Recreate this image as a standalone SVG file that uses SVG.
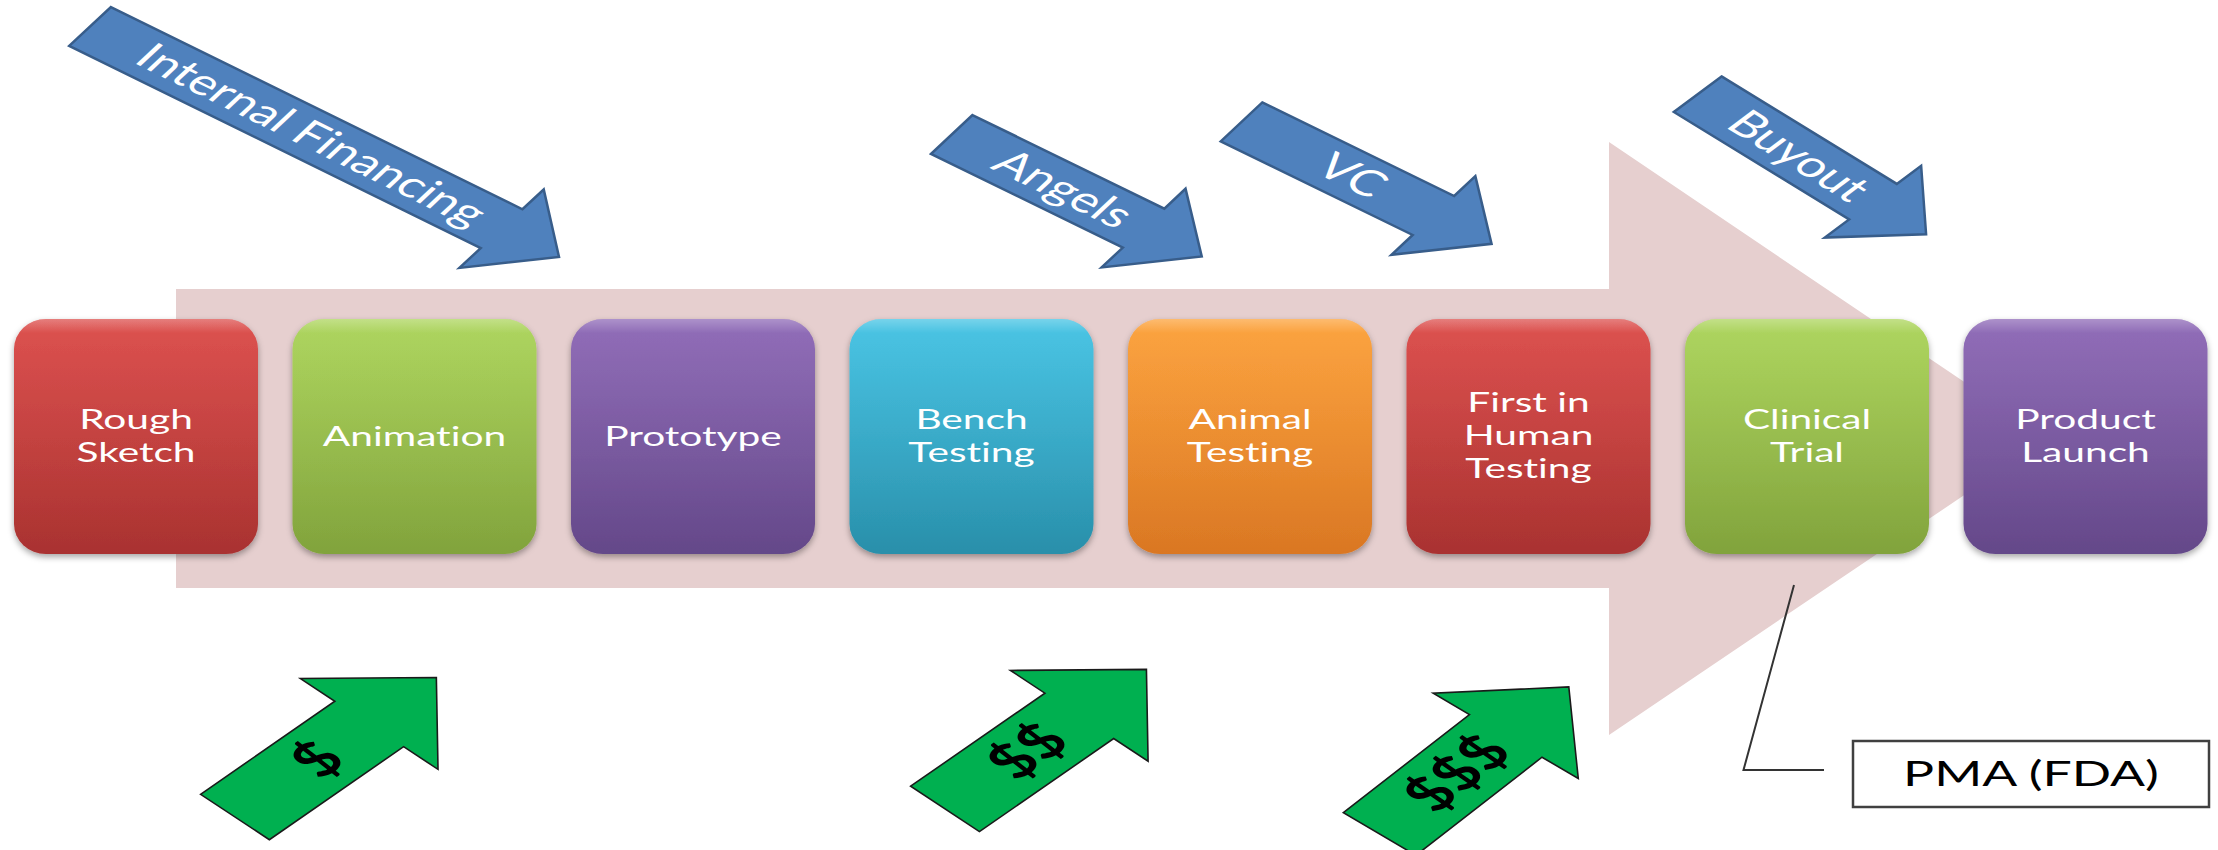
<svg xmlns="http://www.w3.org/2000/svg" width="2218" height="850" viewBox="0 0 2218 850">
<style>
text{font-variant-ligatures:none}
.lbl{font-family:Lato,"Liberation Sans",sans-serif;font-size:27.5px;fill:#ffffff;text-anchor:middle}
.fin{fill:#4F81BD;stroke:#385D8A;stroke-width:2.5}
.fin-text{font-family:Lato,"Liberation Sans",sans-serif;font-size:36px;fill:#ffffff;text-anchor:middle}
.cash{fill:#00B050;stroke:#1a1a1a;stroke-width:1.6}
.dollar{font-family:Lato,"Liberation Sans",sans-serif;font-weight:700;font-size:47px;fill:#000000;text-anchor:middle}
.stage{stroke:none}
.gloss{fill:url(#gloss)}
</style>
<defs>
<linearGradient id="gRed" x1="0" y1="0" x2="0" y2="1"><stop offset="0" stop-color="#DB4644"/><stop offset="1" stop-color="#A93230"/></linearGradient>
<linearGradient id="gGreen" x1="0" y1="0" x2="0" y2="1"><stop offset="0" stop-color="#A9D355"/><stop offset="1" stop-color="#81A33C"/></linearGradient>
<linearGradient id="gPurple" x1="0" y1="0" x2="0" y2="1"><stop offset="0" stop-color="#8A64B4"/><stop offset="1" stop-color="#644889"/></linearGradient>
<linearGradient id="gCyan" x1="0" y1="0" x2="0" y2="1"><stop offset="0" stop-color="#3EC1E3"/><stop offset="1" stop-color="#298FAA"/></linearGradient>
<linearGradient id="gOrange" x1="0" y1="0" x2="0" y2="1"><stop offset="0" stop-color="#FC9E33"/><stop offset="1" stop-color="#DA7723"/></linearGradient>
<linearGradient id="gloss" x1="0" y1="0" x2="0" y2="1"><stop offset="0" stop-color="#ffffff" stop-opacity="0.3"/><stop offset="0.06" stop-color="#ffffff" stop-opacity="0.06"/><stop offset="1" stop-color="#ffffff" stop-opacity="0"/></linearGradient>
<filter id="shadow" x="-10%" y="-10%" width="120%" height="125%"><feDropShadow dx="0" dy="3" stdDeviation="3" flood-color="#000" flood-opacity="0.35"/></filter>
</defs>

<rect width="2218" height="850" fill="#ffffff"/>

<g id="pipeline-arrow">
<polygon points="176,289 1609,289 1609,142 2048,438.5 1609,735 1609,588 176,588" fill="#E6CFCF"/>
</g>

<g id="rough-sketch"><rect class="stage" x="14" y="319" width="244" height="235" rx="32" ry="30" fill="url(#gRed)" filter="url(#shadow)"/><rect class="gloss" x="14" y="319" width="244" height="235" rx="32" ry="30"/>
<text class="lbl" transform="translate(136 0) scale(1.4787 1)"><tspan x="0" y="429">Rough</tspan><tspan x="0" y="462">Sketch</tspan></text></g>

<g id="animation"><rect class="stage" x="292.5" y="319" width="244" height="235" rx="32" ry="30" fill="url(#gGreen)" filter="url(#shadow)"/><rect class="gloss" x="292.5" y="319" width="244" height="235" rx="32" ry="30"/>
<text class="lbl" transform="translate(414.5 0) scale(1.4787 1)"><tspan x="0" y="446">Animation</tspan></text></g>

<g id="prototype"><rect class="stage" x="571" y="319" width="244" height="235" rx="32" ry="30" fill="url(#gPurple)" filter="url(#shadow)"/><rect class="gloss" x="571" y="319" width="244" height="235" rx="32" ry="30"/>
<text class="lbl" transform="translate(693 0) scale(1.4787 1)"><tspan x="0" y="446">Prototype</tspan></text></g>

<g id="bench-testing"><rect class="stage" x="849.5" y="319" width="244" height="235" rx="32" ry="30" fill="url(#gCyan)" filter="url(#shadow)"/><rect class="gloss" x="849.5" y="319" width="244" height="235" rx="32" ry="30"/>
<text class="lbl" transform="translate(971.5 0) scale(1.4787 1)"><tspan x="0" y="429">Bench</tspan><tspan x="0" y="462">Testing</tspan></text></g>

<g id="animal-testing"><rect class="stage" x="1128" y="319" width="244" height="235" rx="32" ry="30" fill="url(#gOrange)" filter="url(#shadow)"/><rect class="gloss" x="1128" y="319" width="244" height="235" rx="32" ry="30"/>
<text class="lbl" transform="translate(1250 0) scale(1.4787 1)"><tspan x="0" y="429">Animal</tspan><tspan x="0" y="462">Testing</tspan></text></g>

<g id="first-in-human"><rect class="stage" x="1406.5" y="319" width="244" height="235" rx="32" ry="30" fill="url(#gRed)" filter="url(#shadow)"/><rect class="gloss" x="1406.5" y="319" width="244" height="235" rx="32" ry="30"/>
<text class="lbl" transform="translate(1528.5 0) scale(1.4787 1)"><tspan x="0" y="412">First in</tspan><tspan x="0" y="445">Human</tspan><tspan x="0" y="478">Testing</tspan></text></g>

<g id="clinical-trial"><rect class="stage" x="1685" y="319" width="244" height="235" rx="32" ry="30" fill="url(#gGreen)" filter="url(#shadow)"/><rect class="gloss" x="1685" y="319" width="244" height="235" rx="32" ry="30"/>
<text class="lbl" transform="translate(1807 0) scale(1.4787 1)"><tspan x="0" y="429">Clinical</tspan><tspan x="0" y="462">Trial</tspan></text></g>

<g id="product-launch"><rect class="stage" x="1963.5" y="319" width="244" height="235" rx="32" ry="30" fill="url(#gPurple)" filter="url(#shadow)"/><rect class="gloss" x="1963.5" y="319" width="244" height="235" rx="32" ry="30"/>
<text class="lbl" transform="translate(2085.5 0) scale(1.4787 1)"><tspan x="0" y="429">Product</tspan><tspan x="0" y="462">Launch</tspan></text></g>

<g id="internal-financing" transform="scale(1.4787 1) translate(60.9 26.5) rotate(36)">
<path class="fin" vector-effect="non-scaling-stroke" d="M0,-24 H344 V-48.5 L392,0 L344,48.5 V24 H0 Z"/>
<text class="fin-text" x="185" y="12">Internal Financing</text>
</g>
<g id="angels" transform="scale(1.4787 1) translate(643.6 134.5) rotate(35.8)">
<path class="fin" vector-effect="non-scaling-stroke" d="M0,-24 H160 V-48.5 L208.5,0 L160,48.5 V24 H0 Z"/>
<text class="fin-text" x="93" y="12">Angels</text>
</g>
<g id="vc" transform="scale(1.4787 1) translate(839.6 121.9) rotate(35.8)">
<path class="fin" vector-effect="non-scaling-stroke" d="M0,-24 H160 V-48.5 L208.5,0 L160,48.5 V24 H0 Z"/>
<text class="fin-text" x="92" y="12">VC</text>
</g>
<g id="buyout" transform="scale(1.4787 1) translate(1148.1 94.2) rotate(42.2)">
<path class="fin" vector-effect="non-scaling-stroke" d="M0,-24 H160 V-48.5 L208.5,0 L160,48.5 V24 H0 Z"/>
<text class="fin-text" x="92" y="12">Buyout</text>
</g>

<g id="cash-1" transform="scale(1.4787 1) translate(158.9 817) rotate(-45.7)">
<path class="cash" vector-effect="non-scaling-stroke" d="M0,-32.5 H130 V-65 L195,0 L130,65 V32.5 H0 Z"/>
<text class="dollar" x="80" y="16">$</text>
</g>
<g id="cash-2" transform="scale(1.4787 1) translate(639.1 808.9) rotate(-45.7)">
<path class="cash" vector-effect="non-scaling-stroke" d="M0,-32.5 H130 V-65 L195,0 L130,65 V32.5 H0 Z"/>
<text class="dollar" x="80" y="16">$$</text>
</g>
<g id="cash-3" transform="scale(1.4787 1) translate(933 834) rotate(-49)">
<path class="cash" vector-effect="non-scaling-stroke" d="M0,-32.5 H130 V-65 L195,0 L130,65 V32.5 H0 Z"/>
<text class="dollar" x="80" y="16">$$$</text>
</g>

<g id="connectors">
<polyline points="1794,585 1743.5,770 1824,770" fill="none" stroke="#333333" stroke-width="2"/>
</g>

<g id="pma">
<rect x="1853" y="741" width="356" height="66" fill="#ffffff" stroke="#404040" stroke-width="2.5"/>
<text transform="translate(2031 0) scale(1.4787 1)" x="0" y="786.5" font-family="Lato, 'Liberation Sans', sans-serif" font-size="35" fill="#000000" text-anchor="middle">PMA (FDA)</text>
</g>
</svg>
